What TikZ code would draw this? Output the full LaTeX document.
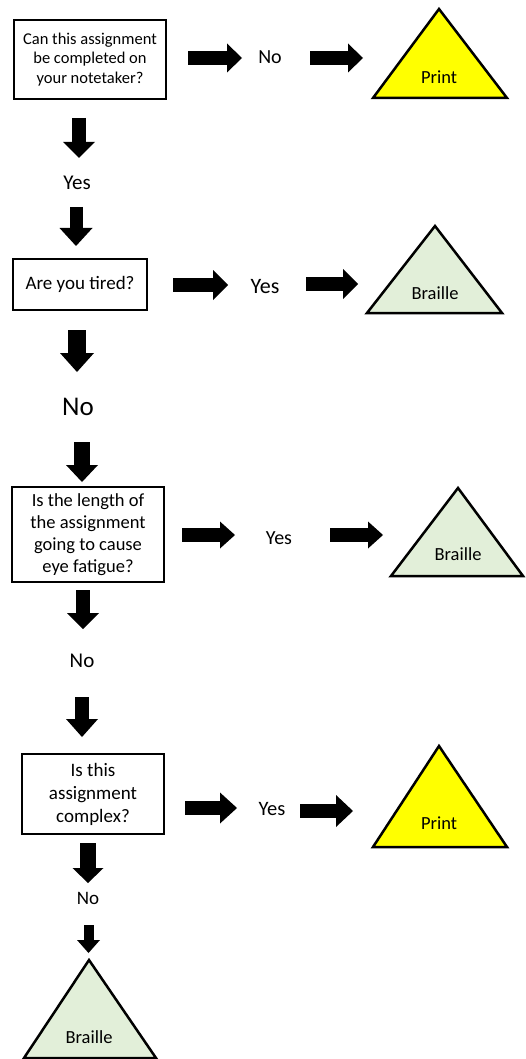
\documentclass[tikz,border=0pt]{standalone}
\usepackage{fontspec}
\setmainfont{Carlito}
\usetikzlibrary{arrows.meta}
\definecolor{trigreen}{HTML}{E2EFD9}
\definecolor{triyellow}{HTML}{FFFF00}
\tikzset{
  qbox/.style={draw=black, line width=2.2pt, align=center, inner sep=0pt, fill=white},
  lbl/.style={inner sep=0pt, text=black},
  tri/.style={draw=black, line width=2.5pt, line join=miter},
  barrow/.style args={#1/#2/#3}{draw=black, line width=#1, -{Triangle[length=#3, width=#2, line width=0pt]}}
}
\newcommand\fs[2]{\fontsize{#1}{#2}\selectfont}
\begin{document}
\begin{tikzpicture}[x=1pt,y=-1pt]
\useasboundingbox (0,0) rectangle (525,1059);

% ---------- row 1 ----------
\node[qbox, minimum width=152pt, minimum height=79pt, font=\fs{16.5}{19.5}] (q1) at (90,59.5)
  {Can this assignment\\be completed on\\your notetaker?};
\node[lbl, font=\fs{20}{24}] (n1) at (270,57) {No};
\draw[tri, fill=triyellow] (439,9) -- (507,98) -- (373,98) -- cycle;
\node[lbl, font=\fs{18.5}{22}] (p1) at (439,77) {Print};
\coordinate (r1s) at (188,58); \coordinate (r1e) at (242,58);
\coordinate (r2s) at (310,58); \coordinate (r2e) at (363,58);
\draw[barrow=14pt/29pt/15pt] (r1s) -- (r1e);
\draw[barrow=14pt/29pt/15pt] (r2s) -- (r2e);

% down to row 2
\coordinate (d1s) at (79,118); \coordinate (d1e) at (79,158);
\draw[barrow=14pt/32pt/16pt] (d1s) -- (d1e);
\node[lbl, font=\fs{21}{25}] (y1) at (77,183) {Yes};
\coordinate (d2s) at (76,207); \coordinate (d2e) at (76,246);
\draw[barrow=13pt/33pt/18pt] (d2s) -- (d2e);

% ---------- row 2 ----------
\node[qbox, minimum width=134pt, minimum height=51pt, font=\fs{19}{23}] (q2) at (80,284.5)
  {Are you tired?};
\node[lbl, font=\fs{22}{26}] (y2) at (265,287) {Yes};
\draw[tri, fill=trigreen] (435,226) -- (502,313) -- (367,313) -- cycle;
\node[lbl, font=\fs{18.5}{22}] (b1) at (435,293) {Braille};
\coordinate (r3s) at (173,285); \coordinate (r3e) at (228,285);
\coordinate (r4s) at (306,284); \coordinate (r4e) at (358,284);
\draw[barrow=14pt/30pt/15pt] (r3s) -- (r3e);
\draw[barrow=14pt/30pt/15pt] (r4s) -- (r4e);

% down to row 3
\coordinate (d3s) at (77,330); \coordinate (d3e) at (77,372);
\draw[barrow=18pt/34pt/19pt] (d3s) -- (d3e);
\node[lbl, font=\fs{27}{32}] (n2) at (78,407) {No};
\coordinate (d4s) at (82,442); \coordinate (d4e) at (82,482);
\draw[barrow=16pt/32pt/17pt] (d4s) -- (d4e);

% ---------- row 3 ----------
\node[qbox, minimum width=152pt, minimum height=95pt, font=\fs{18.5}{22}] (q3) at (88,534.5)
  {Is the length of\\the assignment\\going to cause\\eye fatigue?};
\node[lbl, font=\fs{20}{24}] (y3) at (279,538) {Yes};
\draw[tri, fill=trigreen] (458,488) -- (523,576) -- (391,576) -- cycle;
\node[lbl, font=\fs{18.5}{22}] (b2) at (458,554) {Braille};
\coordinate (r5s) at (182,535); \coordinate (r5e) at (235,535);
\coordinate (r6s) at (330,535); \coordinate (r6e) at (383,535);
\draw[barrow=14pt/27pt/15pt] (r5s) -- (r5e);
\draw[barrow=14pt/27pt/15pt] (r6s) -- (r6e);

% down to row 4
\coordinate (d5s) at (83,590); \coordinate (d5e) at (83,629);
\draw[barrow=14pt/32pt/16pt] (d5s) -- (d5e);
\node[lbl, font=\fs{21}{25}] (n3) at (82,661) {No};
\coordinate (d6s) at (82,697); \coordinate (d6e) at (82,737);
\draw[barrow=14pt/32pt/18pt] (d6s) -- (d6e);

% ---------- row 4 ----------
\node[qbox, minimum width=142pt, minimum height=80pt, font=\fs{19}{23}] (q4) at (93,794)
  {Is this\\assignment\\complex?};
\node[lbl, font=\fs{20.5}{24}] (y4) at (272,809) {Yes};
\draw[tri, fill=triyellow] (439,746) -- (507,847) -- (373,847) -- cycle;
\node[lbl, font=\fs{18.5}{22}] (p2) at (439,823) {Print};
\coordinate (r7s) at (185,808); \coordinate (r7e) at (237,808);
\coordinate (r8s) at (300,811); \coordinate (r8e) at (353,811);
\draw[barrow=14pt/31pt/17pt] (r7s) -- (r7e);
\draw[barrow=14pt/32pt/17pt] (r8s) -- (r8e);

% down to final
\coordinate (d7s) at (88,843); \coordinate (d7e) at (88,883);
\draw[barrow=16pt/31pt/15pt] (d7s) -- (d7e);
\node[lbl, font=\fs{19}{23}] (n4) at (88,898) {No};
\coordinate (d8s) at (88.5,925); \coordinate (d8e) at (88.5,953);
\draw[barrow=10pt/23pt/13pt] (d8s) -- (d8e);

% ---------- final ----------
\draw[tri, fill=trigreen] (89,960) -- (156,1058) -- (24,1058) -- cycle;
\node[lbl, font=\fs{18.5}{22}] (b3) at (89,1037) {Braille};
\end{tikzpicture}
\end{document}
